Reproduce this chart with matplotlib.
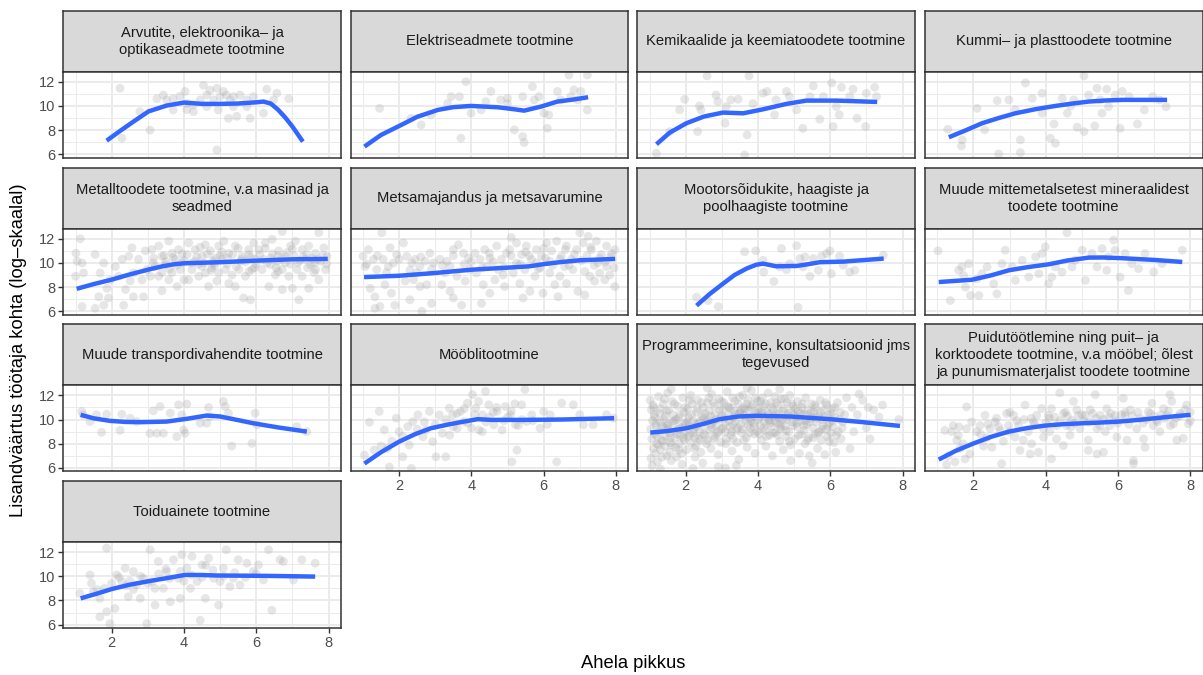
import matplotlib
matplotlib.use("Agg")
import matplotlib.pyplot as plt
from matplotlib.ticker import FixedLocator

plt.rcParams['font.family'] = ['Liberation Sans', 'DejaVu Sans']

# ---------------- data ----------------
titles = [
    "Arvutite, elektroonika– ja\noptikaseadmete tootmine",
    "Elektriseadmete tootmine",
    "Kemikaalide ja keemiatoodete tootmine",
    "Kummi– ja plasttoodete tootmine",
    "Metalltoodete tootmine, v.a masinad ja\nseadmed",
    "Metsamajandus ja metsavarumine",
    "Mootorsõidukite, haagiste ja\npoolhaagiste tootmine",
    "Muude mittemetalsetest mineraalidest\ntoodete tootmine",
    "Muude transpordivahendite tootmine",
    "Mööblitootmine",
    "Programmeerimine, konsultatsioonid jms\ntegevused",
    "Puidutöötlemine ning puit– ja\nkorktoodete tootmine, v.a mööbel; õlest\nja punumismaterjalist toodete tootmine",
    "Toiduainete tootmine",
]

x_ticks = [2, 4, 6, 8]
y_ticks = [6, 8, 10, 12]
x_label = "Ahela pikkus"
y_label = "Lisandväärtus töötaja kohta (log–skaalal)"

# scatter points (x, y) per panel
pts_arvutite = [(2.23, 11.46), (2.28, 7.33), (3.06, 8.0), (3.43, 10.9), (3.52, 10.5), (3.7, 10.6), (3.89, 10.8),
                (4.03, 11.2), (4.08, 9.7), (4.26, 9.53), (4.45, 10.5), (4.54, 11.7), (4.63, 10.9), (4.72, 11.3),
                (4.82, 10.5), (4.91, 11.46), (4.95, 9.67), (5.0, 10.77), (5.09, 11.2), (5.18, 10.9), (5.23, 8.98),
                (5.28, 10.5), (5.37, 10.77), (5.46, 9.14), (5.55, 10.9), (5.74, 10.5), (5.83, 8.98), (5.92, 10.77),
                (6.2, 9.4), (6.29, 11.38), (6.48, 10.5), (6.57, 11.05), (6.9, 10.6), (4.91, 6.36), (3.25, 10.6),
                (3.7, 9.67), (4.26, 10.08), (4.63, 9.94), (5.37, 9.94), (5.74, 9.94), (4.08, 10.2), (2.78, 9.53)]
pts_elektri = [(1.46, 9.8), (2.61, 8.43), (3.71, 7.33), (3.85, 12.0), (3.44, 10.77), (3.67, 10.77), (3.99, 9.4),
               (4.4, 10.36), (4.54, 11.2), (4.81, 10.5), (5.0, 10.63), (5.19, 8.02), (5.42, 7.47), (5.46, 6.97),
               (5.42, 10.77), (5.69, 11.6), (5.74, 10.5), (5.87, 10.77), (6.01, 9.4), (6.1, 8.15), (6.14, 9.26),
               (6.38, 11.2), (6.47, 10.5), (6.7, 12.56), (6.75, 10.77), (6.84, 11.32), (6.94, 10.5), (7.03, 11.2),
               (7.21, 12.56), (7.21, 9.67), (5.0, 10.2), (4.27, 9.67), (3.34, 10.2), (2.33, 8.98), (2.88, 9.26)]
pts_kemikaal = [(1.19, 6.09), (1.83, 9.67), (1.97, 10.55), (2.38, 10.0), (2.33, 7.88), (2.42, 9.67), (2.59, 12.48),
                (2.84, 10.9), (2.89, 10.36), (3.12, 9.94), (3.09, 8.57), (3.25, 10.5), (3.45, 10.55), (3.63, 5.95),
                (3.7, 7.6), (3.75, 12.48), (3.86, 10.2), (4.14, 11.05), (4.25, 11.2), (4.46, 9.26), (4.5, 10.5),
                (4.79, 11.2), (4.87, 10.77), (5.07, 9.67), (5.24, 8.15), (5.44, 10.77), (5.53, 11.65), (5.71, 8.9),
                (5.81, 10.77), (6.04, 11.9), (6.08, 8.3), (6.17, 9.94), (6.25, 9.26), (6.31, 11.54), (6.54, 10.77),
                (6.63, 11.38), (6.74, 8.98), (6.98, 8.3), (7.0, 11.05), (7.23, 11.54), (7.28, 10.77), (1.56, 7.88)]
pts_kummi = [(1.29, 8.07), (1.69, 7.19), (1.67, 6.69), (2.1, 9.8), (2.31, 8.02), (2.66, 10.44), (2.7, 6.03),
             (2.98, 10.5), (3.16, 9.67), (3.3, 6.14), (3.3, 7.19), (3.44, 11.9), (3.63, 10.63), (3.9, 11.05),
             (4.13, 7.33), (4.23, 8.51), (4.27, 6.91), (4.46, 10.63), (4.69, 10.0), (4.78, 10.5), (4.87, 8.24),
             (5.06, 12.48), (5.06, 7.88), (5.19, 10.9), (5.36, 8.35), (5.42, 11.46), (5.51, 10.5), (5.56, 9.4),
             (5.69, 11.38), (5.74, 9.94), (5.92, 10.9), (6.06, 8.15), (6.12, 11.2), (6.31, 10.77), (6.54, 8.51),
             (6.73, 9.67), (6.96, 10.77), (7.14, 10.5), (7.33, 9.94), (4.6, 9.4), (3.9, 9.4)]
pts_metall = [(1.01, 10.8), (1.13, 12.0), (1.04, 10.14), (1.18, 10.0), (1.22, 9.17), (1.0, 8.9), (1.54, 10.7),
              (1.68, 9.17), (1.78, 10.0), (1.18, 6.4), (1.54, 6.25), (1.64, 7.2), (1.78, 6.5), (1.91, 7.1),
              (1.87, 7.9), (1.96, 8.6), (2.1, 9.7), (2.29, 10.3), (2.47, 10.55), (2.56, 11.25), (2.6, 9.17),
              (2.38, 7.8), (2.6, 7.2), (2.88, 7.2), (2.74, 10.3), (2.93, 11.0), (2.84, 8.6), (2.33, 6.5),
              (2.51, 8.5), (2.98, 9.45), (2.19, 8.9), (3.11, 11.1), (3.3, 11.4), (3.39, 10.55), (3.58, 11.8),
              (3.67, 10.8), (3.76, 10.3), (3.85, 11.1), (3.2, 9.7), (3.39, 9.2), (3.67, 9.2), (3.9, 9.45),
              (3.81, 8.05), (3.58, 8.6), (3.3, 8.9), (3.48, 9.85), (3.95, 10.0), (3.16, 10.4), (3.39, 7.7),
              (4.0, 8.6), (3.07, 8.9), (4.13, 11.65), (4.31, 11.1), (4.5, 10.55), (4.59, 11.5), (4.73, 11.0),
              (4.87, 10.4), (4.96, 11.4), (4.22, 9.45), (4.41, 8.9), (4.59, 9.17), (4.77, 9.6), (4.96, 9.17),
              (4.68, 8.05), (4.91, 8.5), (4.31, 10.14), (4.13, 8.6), (4.82, 10.0), (4.09, 10.7), (4.5, 9.7),
              (5.1, 11.8), (5.24, 10.8), (5.42, 11.4), (5.61, 10.55), (5.79, 11.1), (5.93, 11.65), (5.15, 9.45),
              (5.33, 9.0), (5.52, 9.45), (5.7, 8.9), (5.88, 9.45), (5.42, 8.05), (5.65, 7.1), (5.84, 6.95),
              (5.24, 8.3), (5.05, 10.3), (5.98, 10.3), (5.56, 10.14), (6.07, 11.1), (6.25, 11.65), (6.44, 11.95),
              (6.62, 11.0), (6.72, 12.6), (6.81, 10.55), (6.95, 11.4), (6.16, 9.45), (6.35, 8.05), (6.53, 9.0),
              (6.72, 9.45), (6.9, 8.9), (6.72, 7.8), (7.0, 7.9), (6.2, 10.3), (6.58, 10.14), (6.39, 9.85),
              (7.08, 11.8), (7.27, 11.1), (7.45, 11.4), (7.64, 10.8), (7.73, 12.5), (7.87, 11.25), (7.13, 9.45),
              (7.27, 8.9), (7.45, 7.9), (7.64, 9.45), (7.73, 8.6), (7.92, 9.45), (7.18, 6.95), (7.96, 10.55),
              (7.5, 9.85), (7.78, 10.14), (7.36, 10.3), (3.5, 10.1), (4.0, 10.2), (4.4, 9.9), (4.8, 10.2),
              (5.2, 9.9), (5.6, 10.3), (6.0, 9.9), (6.4, 10.4), (6.8, 10.0), (7.2, 10.2), (7.6, 10.0), (3.8, 9.8),
              (5.0, 10.6), (5.8, 10.7), (6.6, 10.6), (7.4, 10.7),
              (3.15, 10.0), (3.45, 10.6), (3.7, 10.45), (3.95, 10.75), (4.2, 10.0), (4.35, 10.5), (4.55, 10.0),
              (4.65, 10.75), (4.85, 9.8), (5.05, 10.9), (5.2, 10.4), (5.35, 10.7), (5.45, 9.7), (5.7, 10.1),
              (5.85, 10.45), (5.95, 9.6), (6.1, 10.7), (6.3, 10.0), (6.45, 10.75), (6.55, 9.6), (6.7, 10.35),
              (6.85, 10.85), (6.95, 9.9), (7.05, 10.6), (7.15, 10.0), (7.3, 10.5), (7.42, 9.6), (7.55, 10.4),
              (7.7, 10.3), (7.85, 10.6), (7.95, 9.9), (4.45, 11.3), (5.5, 11.2), (6.25, 11.2), (7.0, 11.15),
              (3.6, 9.5), (4.75, 9.4), (5.8, 9.3), (6.6, 9.3), (7.6, 9.2)]
pts_metsa = [(1.0, 10.55), (1.15, 11.1), (1.06, 9.7), (1.29, 10.3), (1.38, 9.45), (1.2, 7.9), (1.33, 7.2),
             (1.52, 12.5), (1.56, 10.3), (1.65, 9.2), (1.75, 11.25), (1.84, 10.0), (1.47, 6.4), (1.33, 6.25),
             (1.88, 6.5), (1.61, 8.2), (1.79, 7.5), (1.93, 10.7), (2.12, 11.65), (2.21, 10.55), (2.35, 10.0),
             (2.44, 10.3), (2.57, 9.7), (2.72, 10.14), (2.95, 10.0), (2.17, 8.5), (2.4, 8.6), (2.58, 8.05),
             (2.76, 8.2), (2.9, 6.65), (2.3, 6.95), (2.85, 10.8), (2.49, 9.17), (2.63, 6.0), (3.13, 10.3),
             (3.32, 10.14), (3.5, 11.1), (3.64, 11.5), (3.78, 10.8), (3.92, 10.4), (3.27, 9.17), (3.41, 7.65),
             (3.5, 7.1), (3.6, 8.9), (3.83, 8.5), (3.96, 9.45), (3.73, 6.5), (3.18, 8.2), (3.41, 9.7), (4.1, 10.8),
             (4.24, 10.3), (4.37, 11.1), (4.51, 10.4), (4.7, 11.4), (4.83, 10.3), (4.97, 10.8), (4.14, 9.17),
             (4.33, 8.2), (4.51, 7.5), (4.65, 8.6), (4.88, 9.0), (4.28, 6.65), (4.74, 9.45), (4.42, 9.7),
             (4.92, 8.05), (5.1, 12.1), (5.06, 11.1), (5.25, 11.65), (5.39, 10.7), (5.52, 11.4), (5.66, 10.3),
             (5.8, 11.1), (5.94, 10.55), (5.16, 9.17), (5.34, 8.3), (5.43, 7.1), (5.62, 7.65), (5.76, 8.9),
             (5.9, 9.6), (5.98, 7.5), (5.48, 9.45), (5.25, 10.0), (5.8, 10.0), (6.08, 11.65), (6.22, 11.0),
             (6.36, 11.8), (6.49, 10.55), (6.63, 11.4), (6.77, 10.3), (6.91, 11.1), (6.17, 9.17), (6.31, 8.2),
             (6.45, 8.9), (6.63, 8.3), (6.81, 9.45), (6.95, 7.65), (6.4, 7.2), (7.0, 12.5), (6.58, 9.7),
             (6.17, 10.14), (7.09, 11.65), (7.23, 12.2), (7.32, 11.1), (7.46, 11.8), (7.6, 10.7), (7.74, 11.4),
             (7.88, 10.8), (7.97, 11.1), (7.14, 9.3), (7.28, 8.9), (7.41, 8.5), (7.55, 9.17), (7.69, 8.6),
             (7.83, 9.0), (7.97, 8.05), (7.14, 7.35), (7.5, 10.0), (7.74, 9.7),
             (1.1, 9.9), (1.4, 10.6), (1.7, 9.7), (2.0, 10.3), (2.3, 9.4), (2.6, 10.5), (2.9, 9.5), (3.2, 9.8),
             (3.5, 10.6), (3.8, 9.9), (4.0, 10.1), (4.3, 9.6), (4.6, 10.1), (4.9, 9.6), (5.1, 10.6), (5.35, 9.9),
             (5.6, 10.6), (5.85, 9.5), (6.05, 10.4), (6.25, 9.8), (6.45, 10.3), (6.7, 9.8), (6.85, 10.7),
             (7.05, 10.2), (7.2, 10.6), (7.4, 9.8), (7.55, 10.4), (7.7, 10.1), (7.85, 10.5), (7.95, 9.6),
             (6.0, 11.2), (6.6, 11.1), (7.3, 11.3), (5.5, 10.9), (4.5, 10.8)]
pts_mootor = [(2.3, 7.17), (2.62, 6.89), (2.9, 6.39), (3.63, 10.92), (3.94, 11.0), (4.14, 10.22), (4.16, 9.25),
              (4.44, 8.47), (4.6, 9.67), (4.65, 11.19), (4.79, 9.44), (5.07, 11.42), (5.11, 6.33), (5.16, 10.36),
              (5.25, 9.67), (5.3, 10.5), (5.44, 8.89), (5.53, 10.36), (5.67, 9.39), (5.76, 10.56), (5.9, 10.78),
              (5.99, 11.0), (6.03, 9.11), (6.26, 10.56), (6.54, 9.25), (6.68, 9.39), (7.47, 10.64), (6.36, 9.81),
              (4.88, 9.94)]
pts_mineraal = [(1.02, 11.0), (1.36, 6.89), (1.59, 9.39), (1.68, 9.67), (1.73, 8.97), (1.78, 8.0), (1.92, 7.31),
                (2.1, 8.69), (2.15, 7.31), (2.38, 9.67), (2.56, 8.28), (2.65, 7.44), (2.79, 9.94), (2.88, 11.05),
                (3.07, 9.67), (3.35, 10.22), (3.53, 8.83), (3.72, 10.5), (3.81, 9.11), (3.9, 10.78), (3.99, 11.33),
                (4.08, 8.28), (4.17, 8.83), (4.27, 9.67), (4.45, 9.25), (4.59, 12.5), (4.73, 9.67), (5.01, 11.05),
                (5.1, 8.56), (5.28, 10.78), (5.42, 9.67), (5.56, 11.19), (5.69, 9.39), (5.88, 11.89), (5.92, 11.05),
                (6.06, 8.83), (6.2, 10.78), (6.29, 7.72), (6.38, 9.94), (6.57, 9.53), (6.75, 10.78), (6.99, 9.25),
                (7.22, 9.94), (7.78, 11.05), (1.87, 9.94), (2.24, 9.11), (3.16, 8.56), (4.82, 10.22), (5.74, 10.5)]
pts_transport = [(1.17, 10.67), (1.21, 10.39), (1.4, 9.83), (1.58, 10.39), (1.72, 8.94), (1.86, 10.44), (2.23, 9.11),
                 (2.28, 10.44), (2.51, 10.11), (2.69, 9.83), (3.06, 8.86), (3.15, 10.72), (3.25, 8.86), (3.34, 11.08),
                 (3.43, 8.86), (3.62, 10.53), (3.8, 8.58), (3.85, 11.22), (3.94, 10.39), (3.99, 9.14), (4.03, 8.86),
                 (4.08, 11.28), (4.45, 9.69), (4.63, 9.69), (4.68, 11.0), (4.72, 10.25), (5.09, 11.5), (5.14, 11.08),
                 (5.23, 10.53), (5.32, 7.81), (5.88, 8.03), (5.97, 10.53), (6.02, 9.56), (7.12, 9.42), (7.4, 9.0)]
pts_moobli = [(1.04, 7.06), (1.18, 9.78), (1.31, 7.47), (1.45, 10.67), (1.59, 9.14), (1.68, 7.61), (1.73, 6.08),
              (1.92, 10.11), (2.0, 9.0), (2.1, 6.92), (2.24, 9.42), (2.28, 7.89), (2.38, 9.83), (2.34, 5.97),
              (2.52, 10.39), (2.66, 8.58), (2.75, 9.14), (2.84, 10.67), (2.93, 8.17), (3.02, 6.92), (3.11, 10.39),
              (3.2, 8.86), (3.29, 6.92), (3.39, 10.94), (3.48, 10.39), (3.61, 9.28), (3.7, 10.67), (3.8, 9.83),
              (3.89, 11.36), (4.03, 12.06), (4.12, 10.94), (4.21, 9.14), (4.3, 10.39), (4.39, 12.33), (4.48, 11.22),
              (4.62, 9.56), (4.71, 10.67), (4.85, 9.14), (4.94, 11.08), (5.08, 10.39), (5.12, 6.5), (5.22, 9.56),
              (5.26, 7.47), (5.39, 11.22), (5.48, 12.47), (5.53, 9.83), (5.67, 10.39), (5.9, 9.28), (6.0, 10.67),
              (6.18, 10.39), (6.36, 6.5), (6.5, 11.36), (6.82, 11.22), (7.0, 10.39), (7.1, 9.56), (7.37, 9.56),
              (7.74, 10.39), (7.93, 10.11), (3.3, 10.0), (3.6, 10.5), (3.9, 9.7), (4.1, 10.4), (4.4, 9.8),
              (4.6, 10.6), (4.9, 9.9), (5.1, 10.7), (5.4, 10.0), (3.5, 9.4), (4.0, 9.3), (4.5, 10.2), (5.0, 10.2),
              (5.3, 9.5), (3.8, 10.9), (4.7, 11.0), (5.2, 11.3), (4.2, 11.5), (2.7, 9.8), (3.0, 9.6), (2.5, 9.2),
              (2.1, 8.6), (1.8, 8.2), (1.5, 7.8), (5.7, 9.9), (6.1, 9.6), (4.3, 9.0), (3.4, 8.7)]
pts_programm = [(1.02, 11.6), (1.05, 10.8), (1.08, 9.9), (1.03, 9.2), (1.06, 8.4), (1.1, 7.6), (1.04, 6.8), (1.07, 6.2),
                (1.12, 11.0), (1.15, 10.2), (1.18, 9.5), (1.14, 8.8), (1.2, 8.0), (1.16, 7.2), (1.22, 6.5), (1.25, 11.9),
                (1.28, 10.5), (1.3, 9.8), (1.27, 9.0), (1.33, 8.3), (1.3, 7.5), (1.35, 6.9), (1.38, 11.3), (1.4, 10.0),
                (1.42, 9.3), (1.45, 8.6), (1.43, 7.8), (1.48, 7.0), (1.47, 10.7), (1.5, 12.2), (1.52, 9.6), (1.55, 8.9),
                (1.58, 8.1), (1.56, 7.3), (1.6, 6.6), (1.62, 11.5), (1.65, 10.4), (1.68, 9.9), (1.66, 9.1), (1.7, 8.5),
                (1.72, 7.7), (1.75, 6.9), (1.78, 11.1), (1.8, 10.1), (1.82, 9.4), (1.85, 8.7), (1.83, 8.0), (1.88, 7.2),
                (1.9, 6.3), (1.92, 11.8), (1.95, 10.6), (1.97, 9.7), (1.99, 9.0), (1.96, 8.3), (2.02, 7.5), (2.05, 10.9),
                (2.08, 10.2), (2.1, 9.5), (2.12, 8.8), (2.15, 8.1), (2.14, 12.0), (2.18, 11.3), (2.2, 9.9), (2.22, 9.2),
                (2.25, 8.5), (2.28, 7.8), (2.26, 6.9), (2.3, 10.6), (2.33, 11.6), (2.35, 9.7), (2.38, 9.0), (2.4, 8.3),
                (2.42, 7.3), (2.45, 10.3), (2.48, 11.0), (2.47, 6.4), (2.52, 9.4), (2.55, 8.7), (2.58, 8.0), (2.6, 11.4),
                (2.62, 10.0), (2.65, 10.7), (2.68, 9.1), (2.7, 7.6), (2.72, 12.1), (2.75, 9.8), (2.78, 8.4), (2.8, 11.1),
                (2.82, 10.4), (2.85, 9.5), (2.88, 8.8), (2.9, 7.1), (2.92, 11.7), (2.95, 10.1), (2.98, 9.2), (2.97, 8.1),
                (3.02, 10.8), (3.05, 11.4), (3.08, 9.7), (3.1, 9.0), (3.12, 8.4), (3.15, 12.3), (3.18, 10.4), (3.2, 11.0),
                (3.22, 9.4), (3.25, 8.7), (3.28, 7.4), (3.3, 11.8), (3.32, 10.2), (3.35, 10.7), (3.38, 9.8), (3.4, 9.1),
                (3.42, 8.1), (3.45, 11.3), (3.48, 10.5), (3.47, 6.7), (3.52, 9.6), (3.55, 8.9), (3.58, 12.0), (3.6, 11.0),
                (3.62, 10.3), (3.65, 9.9), (3.68, 8.5), (3.7, 7.7), (3.72, 11.6), (3.75, 10.8), (3.78, 9.3), (3.8, 10.1),
                (3.82, 12.4), (3.85, 11.2), (3.88, 9.7), (3.9, 8.8), (3.92, 7.2), (3.95, 10.5), (3.98, 11.5), (3.97, 9.0),
                (4.02, 10.9), (4.05, 10.2), (4.08, 9.5), (4.1, 8.3), (4.12, 11.8), (4.15, 11.1), (4.18, 9.8), (4.2, 9.1),
                (4.22, 7.8), (4.25, 10.6), (4.28, 12.2), (4.3, 10.0), (4.32, 8.7), (4.35, 11.4), (4.38, 9.4), (4.4, 7.0),
                (4.42, 10.8), (4.45, 10.3), (4.48, 8.9), (4.47, 11.9), (4.52, 9.7), (4.55, 11.2), (4.58, 10.5), (4.6, 8.2),
                (4.62, 9.2), (4.65, 11.7), (4.68, 10.0), (4.7, 7.5), (4.72, 10.9), (4.75, 9.5), (4.78, 8.6), (4.8, 11.4),
                (4.82, 10.3), (4.85, 9.0), (4.88, 12.0), (4.9, 7.9), (4.92, 10.6), (4.95, 9.8), (4.98, 11.1), (5.02, 8.4),
                (5.05, 10.2), (5.08, 9.4), (5.1, 11.5), (5.12, 10.7), (5.15, 7.2), (5.18, 9.9), (5.2, 8.8), (5.22, 11.0),
                (5.25, 10.4), (5.28, 9.1), (5.3, 8.0), (5.32, 11.8), (5.35, 9.6), (5.38, 10.8), (5.4, 8.5), (5.42, 7.0),
                (5.45, 10.1), (5.48, 11.3), (5.52, 9.3), (5.55, 10.6), (5.58, 8.8), (5.6, 11.0), (5.62, 9.8), (5.65, 7.6),
                (5.68, 10.3), (5.7, 9.0), (5.72, 11.6), (5.75, 8.3), (5.78, 10.0), (5.8, 9.5), (5.82, 10.8), (5.85, 7.1),
                (5.88, 9.2), (5.9, 11.2), (5.92, 8.6), (5.95, 10.4), (5.98, 9.7), (6.02, 8.9), (6.05, 10.9), (6.08, 9.4),
                (6.1, 8.1), (6.12, 10.2), (6.15, 7.3), (6.2, 11.4), (6.22, 9.0), (6.28, 10.6), (6.3, 8.4), (6.35, 9.8),
                (6.45, 11.8), (6.6, 11.0), (6.65, 9.0), (6.75, 10.4), (6.9, 11.6), (7.0, 9.3), (7.05, 11.0), (7.1, 8.4),
                (7.2, 10.8), (7.35, 10.2), (7.45, 11.2), (7.9, 10.0), (6.8, 12.1), (6.55, 7.6), (1.3, 5.9), (2.2, 5.95),
                (3.1, 6.0), (3.4, 6.2), (2.9, 6.1), (4.9, 6.6), (5.5, 6.4), (1.6, 12.5), (2.6, 12.6), (3.7, 12.6),
                (4.6, 12.5), (1.5, 9.2), (2.0, 9.6), (2.5, 10.1), (3.0, 10.3), (3.5, 10.6), (4.0, 10.6), (4.5, 10.5),
                (5.0, 10.4), (5.5, 10.2), (3.3, 9.6), (3.8, 9.9), (4.3, 9.9), (2.7, 9.6), (1.8, 9.2), (4.8, 10.0),
                (5.3, 9.9), (2.3, 9.4), (3.6, 10.4), (4.1, 10.4), (4.6, 9.6),
                (1.09, 11.2), (1.13, 10.4), (1.17, 9.7), (1.21, 8.6), (1.24, 7.9), (1.29, 10.9), (1.34, 9.4), (1.37, 8.2),
                (1.41, 11.7), (1.44, 10.3), (1.49, 9.5), (1.53, 10.8), (1.57, 8.5), (1.61, 7.9), (1.63, 9.8), (1.69, 11.3),
                (1.73, 10.0), (1.77, 8.8), (1.81, 7.5), (1.84, 10.4), (1.89, 9.3), (1.93, 8.5), (1.98, 11.0), (2.04, 9.8),
                (2.07, 8.6), (2.11, 11.6), (2.16, 10.4), (2.21, 8.9), (2.24, 7.6), (2.29, 9.6), (2.32, 10.9), (2.36, 8.4),
                (2.41, 9.9), (2.44, 11.4), (2.49, 8.8), (2.53, 10.5), (2.57, 9.8), (2.61, 8.3), (2.64, 11.8), (2.69, 10.3),
                (2.73, 9.3), (2.77, 11.4), (2.81, 8.6), (2.84, 10.0), (2.89, 9.0), (2.94, 10.8), (2.99, 11.5), (3.03, 9.3),
                (3.07, 10.1), (3.11, 8.0), (3.16, 11.1), (3.19, 9.9), (3.24, 10.9), (3.27, 9.0), (3.31, 8.4), (3.36, 11.5),
                (3.39, 10.4), (3.44, 9.3), (3.49, 11.9), (3.53, 10.8), (3.57, 9.2), (3.61, 8.3), (3.64, 10.9), (3.69, 11.3),
                (3.73, 9.6), (3.77, 8.9), (3.81, 11.0), (3.86, 10.3), (3.89, 9.4), (3.93, 11.8), (3.99, 10.0), (4.03, 8.8),
                (4.07, 11.5), (4.11, 10.6), (4.16, 9.3), (4.21, 11.3), (4.24, 8.6), (4.29, 10.4), (4.33, 9.7), (4.37, 11.0),
                (4.41, 8.9), (4.46, 9.9), (4.51, 11.4), (4.54, 8.7), (4.59, 10.1), (4.63, 9.4), (4.69, 10.7), (4.73, 11.7),
                (4.77, 9.1), (4.83, 10.5), (4.87, 8.2), (4.93, 11.3), (4.97, 9.5), (5.03, 10.9), (5.07, 9.7), (5.13, 8.7),
                (5.17, 10.5), (5.23, 11.3), (5.27, 9.5), (5.33, 10.4), (5.37, 8.3), (5.43, 9.8), (5.47, 10.6), (5.53, 8.5),
                (5.57, 11.2), (5.63, 10.1), (5.67, 8.9), (5.73, 10.6), (5.77, 9.2), (5.83, 10.2), (5.87, 11.4), (5.93, 9.5),
                (5.97, 8.2), (6.03, 10.5), (6.07, 9.9), (6.13, 11.0), (6.17, 8.7), (6.25, 10.0), (6.33, 9.3), (6.4, 10.4)]
pts_puidu = [(1.21, 9.1), (1.44, 9.5), (1.4, 9.0), (1.54, 8.3), (1.3, 7.0), (1.49, 6.5), (1.63, 7.6), (1.72, 8.0),
             (1.81, 11.05), (1.81, 9.25), (1.95, 9.8), (1.9, 7.15), (1.77, 6.75), (1.58, 8.7), (1.26, 6.3),
             (2.09, 9.0), (2.18, 9.5), (2.32, 10.35), (2.37, 8.5), (2.46, 9.25), (2.6, 9.8), (2.64, 10.1),
             (2.74, 9.1), (2.83, 8.2), (2.92, 10.5), (2.97, 9.5), (2.78, 6.35), (2.51, 7.7), (2.28, 7.8),
             (3.01, 10.6), (3.11, 10.35), (3.25, 9.5), (3.29, 7.45), (3.38, 8.3), (3.43, 11.2), (3.52, 9.0),
             (3.66, 9.8), (3.75, 10.35), (3.8, 7.3), (3.89, 10.9), (3.94, 8.55), (3.57, 7.15), (3.61, 8.0),
             (3.94, 9.25), (3.15, 8.55), (4.07, 10.35), (4.16, 10.9), (4.25, 10.2), (4.39, 12.2), (4.49, 10.5),
             (4.58, 9.5), (4.72, 9.95), (4.86, 10.8), (4.95, 9.25), (4.11, 9.0), (4.3, 8.4), (4.49, 7.85),
             (4.67, 8.7), (4.9, 10.35), (4.16, 6.75), (4.77, 11.5), (5.09, 10.35), (5.18, 8.3), (5.23, 10.8),
             (5.37, 12.05), (5.42, 9.25), (5.51, 10.35), (5.6, 7.3), (5.69, 10.9), (5.78, 9.5), (5.92, 10.35),
             (5.97, 8.55), (5.18, 7.45), (5.42, 7.15), (5.65, 9.0), (6.15, 11.75), (6.2, 10.35), (6.34, 10.8),
             (6.43, 6.6), (6.43, 6.35), (6.52, 9.25), (6.61, 10.1), (6.71, 8.4), (6.75, 7.7), (6.84, 10.65),
             (6.94, 11.35), (6.98, 9.5), (6.25, 8.3), (7.07, 9.95), (7.16, 9.0), (7.26, 10.9), (7.35, 10.35),
             (7.44, 12.05), (7.54, 9.65), (7.63, 8.3), (7.72, 10.5), (7.81, 8.45), (7.9, 11.2), (7.95, 9.65),
             (7.49, 11.5), (3.2, 9.9), (3.6, 10.1), (4.0, 9.7), (4.4, 9.9), (4.8, 9.7), (5.2, 9.8), (5.6, 10.0),
             (6.0, 9.7), (6.4, 10.3), (6.8, 10.0), (7.2, 10.4), (7.6, 10.1), (8.0, 10.6), (5.0, 10.4), (6.2, 10.6),
             (7.4, 10.7), (5.8, 10.5), (4.6, 10.3), (7.0, 10.3), (5.4, 10.1),
             (3.4, 10.0), (3.7, 9.6), (4.1, 10.1), (4.3, 9.5), (4.55, 10.6), (4.7, 9.4), (5.05, 9.9), (5.3, 10.5),
             (5.5, 9.5), (5.75, 10.2), (5.95, 9.9), (6.1, 10.4), (6.3, 9.6), (6.55, 10.6), (6.7, 9.7), (6.9, 10.5),
             (7.1, 9.8), (7.3, 10.1), (7.45, 9.5), (7.7, 10.3), (7.85, 10.8), (8.0, 9.9), (2.2, 8.8), (2.7, 9.4),
             (3.0, 9.0), (1.6, 9.4), (2.4, 9.6)]
pts_toidu = [(1.12, 8.58), (1.4, 10.11), (1.44, 9.42), (1.49, 8.72), (1.67, 8.17), (1.67, 6.64), (1.86, 12.33),
             (1.86, 7.06), (1.95, 6.08), (2.09, 7.33), (2.14, 10.11), (2.28, 9.56), (2.37, 10.67), (2.46, 8.31),
             (2.6, 10.39), (2.69, 9.28), (2.79, 8.17), (2.88, 9.83), (2.97, 6.08), (3.06, 12.19), (3.11, 9.56),
             (3.2, 7.61), (3.29, 11.22), (3.43, 9.0), (3.52, 10.39), (3.62, 7.89), (3.71, 11.36), (3.85, 9.83),
             (3.9, 8.17), (3.94, 11.78), (4.08, 10.67), (4.18, 9.0), (4.22, 11.64), (4.36, 9.56), (4.45, 6.36),
             (4.5, 10.94), (4.59, 8.17), (4.68, 11.5), (4.82, 9.83), (4.96, 7.61), (5.0, 9.56), (5.09, 10.67),
             (5.17, 12.19), (5.27, 9.14), (5.37, 9.83), (5.5, 11.36), (5.55, 9.28), (5.74, 11.08), (5.92, 10.39),
             (6.06, 10.94), (6.2, 9.69), (6.34, 12.19), (6.43, 7.19), (6.66, 11.36), (6.75, 11.22), (7.03, 9.69),
             (7.26, 11.36), (7.63, 11.08), (2.2, 9.9), (2.5, 9.6), (2.8, 10.0), (3.0, 9.4), (3.3, 10.2), (3.6, 9.8),
             (3.9, 10.4), (4.2, 10.1), (4.5, 9.9), (4.8, 10.5), (5.1, 10.0), (5.4, 10.3), (5.7, 9.9), (6.0, 10.2),
             (2.4, 9.2), (2.0, 9.4), (1.8, 9.0), (3.5, 10.6), (4.0, 9.6), (4.6, 10.9), (3.2, 9.0), (2.6, 8.9),
             (1.6, 8.9)]

# smoothed trend lines per panel
line_x_arvutite = [1.86, 2.23, 2.6, 3.02, 3.52, 4.0, 4.5, 5.0, 5.5, 6.0, 6.2, 6.4, 6.6, 6.8, 7.0, 7.15, 7.29]
line_y_arvutite = [7.13, 7.93, 8.7, 9.55, 10.03, 10.28, 10.17, 10.17, 10.2, 10.3, 10.36, 10.2, 9.7, 9.05, 8.3, 7.65, 7.05]
line_x_elektri = [1.04, 1.5, 2.06, 2.5, 3.07, 3.5, 3.99, 4.73, 5.2, 5.46, 5.92, 6.38, 6.8, 7.23]
line_y_elektri = [6.64, 7.6, 8.43, 9.1, 9.67, 9.9, 10.0, 9.89, 9.72, 9.61, 9.94, 10.36, 10.52, 10.72]
line_x_kemikaal = [1.19, 1.56, 2.02, 2.5, 3.03, 3.59, 4.14, 4.79, 5.34, 6.17, 7.3]
line_y_kemikaal = [6.83, 7.8, 8.57, 9.12, 9.45, 9.39, 9.72, 10.17, 10.44, 10.44, 10.33]
line_x_kummi = [1.32, 1.8, 2.24, 2.7, 3.16, 3.7, 4.27, 4.75, 5.19, 5.65, 6.12, 6.7, 7.36]
line_y_kummi = [7.41, 8.0, 8.57, 9.0, 9.39, 9.72, 10.0, 10.2, 10.36, 10.45, 10.5, 10.5, 10.5]
line_x_metall = [1.03, 1.5, 2.0, 2.5, 3.0, 3.4, 3.7, 4.0, 5.0, 6.0, 7.0, 7.98]
line_y_metall = [7.86, 8.25, 8.62, 9.05, 9.44, 9.72, 9.88, 9.97, 10.06, 10.19, 10.3, 10.33]
line_x_metsa = [1.03, 2.0, 3.0, 4.0, 5.0, 5.6, 6.0, 6.5, 7.0, 7.98]
line_y_metsa = [8.83, 8.94, 9.17, 9.44, 9.61, 9.72, 9.9, 10.08, 10.22, 10.33]
line_x_mootor = [2.3, 2.65, 3.03, 3.35, 3.68, 3.95, 4.14, 4.51, 5.07, 5.4, 5.71, 6.36, 7.48]
line_y_mootor = [6.47, 7.4, 8.28, 9.0, 9.53, 9.85, 9.94, 9.72, 9.75, 9.9, 10.06, 10.11, 10.36]
line_x_mineraal = [1.04, 1.96, 2.5, 2.98, 3.5, 4.09, 4.6, 5.19, 5.6, 6.12, 7.0, 7.78]
line_y_mineraal = [8.42, 8.61, 8.98, 9.39, 9.65, 9.89, 10.2, 10.44, 10.45, 10.39, 10.25, 10.08]
line_x_transport = [1.14, 1.5, 1.95, 2.4, 2.78, 3.52, 4.08, 4.63, 5.0, 5.5, 5.92, 6.6, 7.4]
line_y_transport = [10.39, 10.1, 9.89, 9.8, 9.78, 9.83, 10.06, 10.33, 10.25, 9.95, 9.69, 9.35, 9.0]
line_x_moobli = [1.04, 1.5, 2.0, 2.45, 2.88, 3.44, 4.17, 4.54, 5.5, 6.5, 7.95]
line_y_moobli = [6.36, 7.3, 8.17, 8.8, 9.28, 9.64, 10.03, 9.97, 9.97, 10.0, 10.11]
line_x_programm = [1.02, 1.5, 2.02, 2.5, 2.94, 3.45, 3.96, 4.88, 5.99, 6.91, 7.93]
line_y_programm = [8.92, 9.05, 9.28, 9.65, 10.03, 10.25, 10.31, 10.25, 10.03, 9.78, 9.47]
line_x_puidu = [1.04, 1.5, 2.01, 2.5, 2.98, 3.5, 3.99, 4.5, 5.01, 5.5, 6.03, 6.5, 7.04, 7.5, 8.01]
line_y_puidu = [6.69, 7.4, 8.03, 8.58, 9.0, 9.3, 9.5, 9.62, 9.69, 9.75, 9.83, 9.95, 10.11, 10.25, 10.39]
line_x_toidu = [1.14, 1.6, 2.0, 2.5, 3.06, 3.6, 4.03, 4.5, 4.91, 6.29, 7.63]
line_y_toidu = [8.17, 8.57, 8.94, 9.3, 9.61, 9.88, 10.11, 10.1, 10.06, 10.03, 9.97]

panel_points = [pts_arvutite, pts_elektri, pts_kemikaal, pts_kummi, pts_metall, pts_metsa, pts_mootor,
                pts_mineraal, pts_transport, pts_moobli, pts_programm, pts_puidu, pts_toidu]
panel_lines = [(line_x_arvutite, line_y_arvutite), (line_x_elektri, line_y_elektri),
               (line_x_kemikaal, line_y_kemikaal), (line_x_kummi, line_y_kummi),
               (line_x_metall, line_y_metall), (line_x_metsa, line_y_metsa),
               (line_x_mootor, line_y_mootor), (line_x_mineraal, line_y_mineraal),
               (line_x_transport, line_y_transport), (line_x_moobli, line_y_moobli),
               (line_x_programm, line_y_programm), (line_x_puidu, line_y_puidu),
               (line_x_toidu, line_y_toidu)]

# ---------------- layout ----------------
W, H = 1203, 675
fig = plt.figure(figsize=(W / 100, H / 100), dpi=100)

col_left = [63.3, 350.7, 637.3, 925.0]
col_w = 277.5
row_top = [10.7, 167.7, 324.3, 481.0]
strip_h = 61.0
panel_h = 86.0


def px_axes(left, top, w, h):
    return fig.add_axes([left / W, 1 - (top + h) / H, w / W, h / H])


frame_col = '#333333'
n = len(titles)
for i in range(n):
    r, c = divmod(i, 4)
    left = col_left[c]
    # strip
    sax = px_axes(left, row_top[r], col_w, strip_h)
    sax.set_facecolor('#D9D9D9')
    sax.set_xticks([])
    sax.set_yticks([])
    for sp in sax.spines.values():
        sp.set_color(frame_col)
        sp.set_linewidth(1.1)
    sax.text(0.5, 0.5, titles[i], ha='center', va='center', fontsize=10.6,
             color='#1A1A1A', linespacing=1.3, transform=sax.transAxes)

    # panel
    ax = px_axes(left, row_top[r] + strip_h, col_w, panel_h)
    ax.set_xlim(0.66, 8.34)
    ax.set_ylim(5.72, 12.83)
    ax.xaxis.set_major_locator(FixedLocator(x_ticks))
    ax.yaxis.set_major_locator(FixedLocator(y_ticks))
    ax.xaxis.set_minor_locator(FixedLocator([1, 3, 5, 7]))
    ax.yaxis.set_minor_locator(FixedLocator([7, 9, 11]))
    ax.grid(which='major', color='#EBEBEB', linewidth=1.4)
    ax.grid(which='minor', color='#EBEBEB', linewidth=0.7)
    ax.set_axisbelow(True)
    for sp in ax.spines.values():
        sp.set_color(frame_col)
        sp.set_linewidth(1.1)

    pts = panel_points[i]
    xs = [p[0] for p in pts]
    ys = [p[1] for p in pts]
    ax.scatter(xs, ys, s=40, color='#A6A6A6', alpha=0.27, edgecolors='none', zorder=2)
    lx, ly = panel_lines[i]
    ax.plot(lx, ly, color='#3366FF', linewidth=3.2, solid_capstyle='butt',
            solid_joinstyle='round', zorder=3)

    show_x = (r == 3) or (r == 2 and c > 0)
    show_y = (c == 0)
    ax.tick_params(which='minor', length=0)
    ax.tick_params(axis='x', which='major', bottom=show_x, labelbottom=show_x,
                   length=3.3, width=1.0, color=frame_col, labelsize=10.5,
                   labelcolor='#4D4D4D', pad=2.5)
    ax.tick_params(axis='y', which='major', left=show_y, labelleft=show_y,
                   length=3.3, width=1.0, color=frame_col, labelsize=10.5,
                   labelcolor='#4D4D4D', pad=2.5)
    ax.set_xticklabels([str(t) for t in x_ticks])
    ax.set_yticklabels([str(t) for t in y_ticks])

fig.text(633 / W, 1 - 663 / H, x_label, ha='center', va='center', fontsize=13.2, color='black')
fig.text(19 / W, 1 - 350 / H, y_label, ha='center', va='center', rotation=90, fontsize=13.2, color='black')

fig.savefig('out.png', dpi=100)
